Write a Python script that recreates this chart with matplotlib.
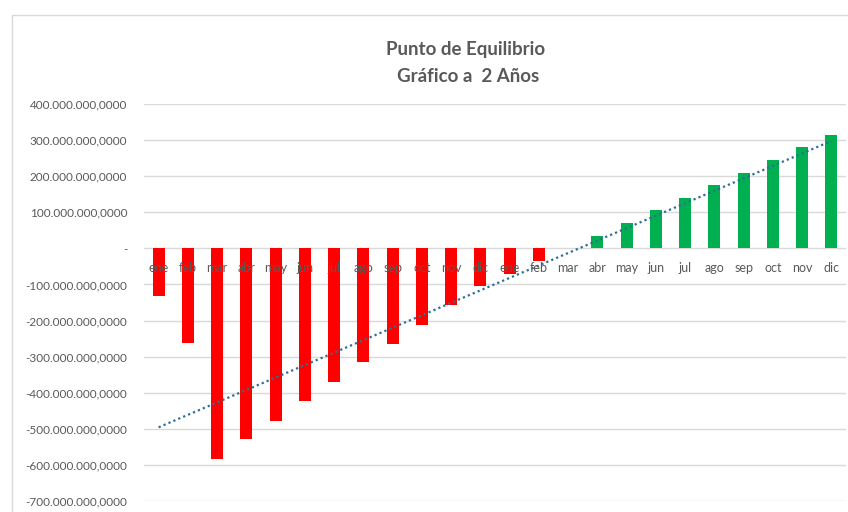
import matplotlib
matplotlib.use('Agg')
import matplotlib.pyplot as plt
from matplotlib.patches import Rectangle
from matplotlib.ticker import FuncFormatter, MultipleLocator
import numpy as np

# Monthly result over two years (values in units)
months = ['ene', 'feb', 'mar', 'abr', 'may', 'jun', 'jul', 'ago', 'sep', 'oct', 'nov', 'dic',
          'ene', 'feb', 'mar', 'abr', 'may', 'jun', 'jul', 'ago', 'sep', 'oct', 'nov', 'dic']
values_m = [-133, -263, -584, -529, -479, -424, -371, -316, -266, -211, -158, -105,
            -72, -36, 0, 33, 69, 105, 139, 175, 210, 244, 280, 313]
values = np.array(values_m, dtype=float) * 1e6

text_col = '#595959'
red = '#FF0000'
green = '#00B050'
trend_col = '#2E6E96'

plt.rcParams['font.family'] = ['Lato', 'DejaVu Sans']

fig = plt.figure(figsize=(8.48, 5.12), dpi=100)
fig.patch.set_facecolor('white')

# chart area border (only left and top visible in the reference)
fig.add_artist(Rectangle((12 / 848, -0.1), 1.2, 1 - 15 / 512 + 0.1,
                         transform=fig.transFigure, fill=False,
                         edgecolor='#D9D9D9', linewidth=1.0))

ax = fig.add_axes([144 / 848, 1 - 501 / 512, (846 - 144) / 848, (501 - 104) / 512])
ax.set_facecolor('none')

x = np.arange(len(months))
colors = [green if v > 0 else red for v in values]
ax.bar(x, values, width=0.41, color=colors, zorder=2)

# linear trend line (Excel-style)
coef = np.polyfit(x, values, 1)
ax.plot(x, np.polyval(coef, x), linestyle=(0, (1, 1.4)), color=trend_col,
        linewidth=1.6, zorder=3)

ax.set_xlim(-0.5, len(months) - 0.5)
ax.set_ylim(-700e6, 400e6)
ax.yaxis.set_major_locator(MultipleLocator(100e6))


def fmt(v, pos):
    if abs(v) < 1:
        return '-'
    s = f"{v:,.4f}"
    return s.replace(',', 'X').replace('.', ',').replace('X', '.')


ax.yaxis.set_major_formatter(FuncFormatter(fmt))
ax.grid(axis='y', color='#D9D9D9', linewidth=1.0, zorder=0)
ax.set_axisbelow(True)

# category labels sit on the zero line, drawn over the bars
ax.set_xticks([])
for xi, m in zip(x, months):
    ax.annotate(m, xy=(xi, 0), xytext=(0, -14), textcoords='offset points',
                ha='center', va='center', fontsize=9, color=text_col, zorder=5)

for s in ax.spines.values():
    s.set_visible(False)
ax.tick_params(axis='y', length=0, pad=12, labelsize=8.5, labelcolor=text_col)

fig.text(466 / 848, 1 - 49 / 512, 'Punto de Equilibrio', ha='center', va='center',
         fontsize=13.5, fontweight='bold', color=text_col)
fig.text(468 / 848, 1 - 77 / 512, 'Gráfico a  2 Años', ha='center', va='center',
         fontsize=13.5, fontweight='bold', color=text_col)

fig.savefig('out.png', dpi=100)
